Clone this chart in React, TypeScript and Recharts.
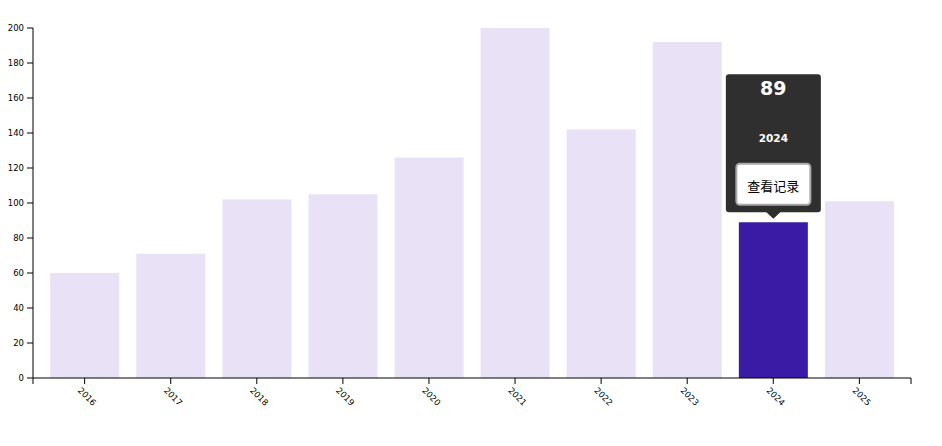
import React from "react";
import { BarChart, Bar, XAxis, YAxis, Cell, LabelList } from "recharts";

const years = ["2016", "2017", "2018", "2019", "2020", "2021", "2022", "2023", "2024", "2025"];
const counts = [60, 71, 102, 105, 126, 200, 142, 192, 89, 101];
const yTicks = [0, 20, 40, 60, 80, 100, 120, 140, 160, 180, 200];
const selectedYear = "2024";
const buttonText = "查看记录";

const data = years.map((year, i) => ({ year, count: counts[i] }));
const selectedIndex = years.indexOf(selectedYear);

const W = 942;
const H = 446;
const PLOT_LEFT = 33;
const LIGHT = "#e9e1f5";
const DARK = "#3a1ba6";
const FONT = "'DejaVu Sans', sans-serif";

const XTick = (props: any) => {
  const { x, y, payload, index, visibleTicksCount, width } = props;
  const axisY = y - 8;
  return (
    <g>
      {index === 0 && (
        <line x1={PLOT_LEFT} x2={PLOT_LEFT} y1={axisY} y2={axisY + 6} stroke="#000" />
      )}
      {index === visibleTicksCount - 1 && (
        <line x1={PLOT_LEFT + width} x2={PLOT_LEFT + width} y1={axisY} y2={axisY + 6} stroke="#000" />
      )}
      <g transform={`translate(${x + 2.5},${y + 10.5}) rotate(45)`}>
        <text textAnchor="middle" dominantBaseline="central" fontSize={8.5} fontFamily={FONT} fill="#000">
          {payload.value}
        </text>
      </g>
    </g>
  );
};

const TooltipLabel = (props: any) => {
  const { x, y, width, index, value } = props;
  if (index !== selectedIndex) return null;
  const cx = x + width / 2;
  const top = y;
  return (
    <g>
      <rect x={cx - 47.5} y={top - 148} width={95} height={138} rx={3} fill="#2f2f2f" />
      <path d={`M${cx - 7.5},${top - 10.5} L${cx + 7.5},${top - 10.5} L${cx},${top - 3.5} Z`} fill="#2f2f2f" />
      <text x={cx} y={top - 127} textAnchor="middle" fontSize={19} fontWeight="bold" fontFamily={FONT} fill="#fff">
        {value}
      </text>
      <text x={cx} y={top - 80} textAnchor="middle" fontSize={10.5} fontWeight="bold" fontFamily={FONT} fill="#fff">
        {years[index]}
      </text>
      <rect x={cx - 37} y={top - 58.5} width={74} height={41} rx={3.5} fill="#fff" stroke="#a8a8a8" strokeWidth={2} />
      <text
        x={cx}
        y={top - 37}
        textAnchor="middle"
        dominantBaseline="central"
        fontSize={13}
        fontFamily="'Noto Sans CJK SC', sans-serif"
        fill="#000"
      >
        {buttonText}
      </text>
    </g>
  );
};

export default function App() {
  return (
    <div style={{ position: "absolute", left: 0, top: 0, width: W, height: H, background: "#fff" }}>
      <BarChart
        width={W}
        height={H}
        data={data}
        margin={{ top: 28, right: 31, bottom: 8, left: 0 }}
        barCategoryGap="10%"
      >
        <XAxis
          dataKey="year"
          height={60}
          padding={{ left: 8.6, right: 8.6 }}
          tickSize={6}
          tickMargin={2}
          axisLine={{ stroke: "#000" }}
          tickLine={{ stroke: "#000" }}
          tick={<XTick />}
          interval={0}
        />
        <YAxis
          width={33}
          domain={[0, 200]}
          ticks={yTicks}
          tickSize={6}
          tickMargin={3}
          axisLine={{ stroke: "#000" }}
          tickLine={{ stroke: "#000" }}
          tick={{ fontSize: 8.5, fontFamily: FONT, fill: "#000" }}
          interval={0}
        />
        <Bar dataKey="count" isAnimationActive={false}>
          {data.map((d) => (
            <Cell key={d.year} fill={d.year === selectedYear ? DARK : LIGHT} />
          ))}
          <LabelList dataKey="count" content={<TooltipLabel />} />
        </Bar>
      </BarChart>
    </div>
  );
}
